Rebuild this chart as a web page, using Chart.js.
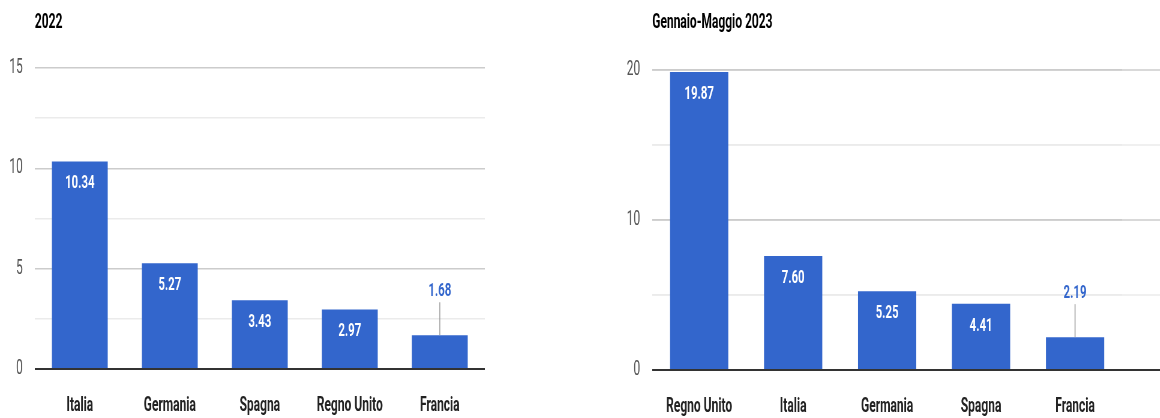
<!DOCTYPE html>
<html>
<head>
<meta charset="utf-8">
<script src="https://cdn.jsdelivr.net/npm/chart.js@4.4.0/dist/chart.umd.min.js"></script>
<style>
  html, body { margin: 0; padding: 0; background: #fff; overflow: hidden; }
  /* the reference is squeezed horizontally, so the charts are drawn wide and scaled down in x */
  .wrap { position: absolute; top: 0; height: 418px; transform-origin: 0 0; transform: scaleX(0.6); }
  #w1 { left: 0; width: 833px; }
  #w2 { left: 600px; width: 933px; }
</style>
</head>
<body>
<div class="wrap" id="w1"><canvas id="c1"></canvas></div>
<div class="wrap" id="w2"><canvas id="c2"></canvas></div>
<script>
const labels2022 = ['Italia', 'Germania', 'Spagna', 'Regno Unito', 'Francia'];
const values2022 = [10.34, 5.27, 3.43, 2.97, 1.68];
const majors2022 = [0, 5, 10, 15];

const labels2023 = ['Regno Unito', 'Italia', 'Germania', 'Spagna', 'Francia'];
const values2023 = [19.87, 7.60, 5.25, 4.41, 2.19];
const majors2023 = [0, 10, 20];

const BAR = '#3366cc';
const FONT = "Roboto, 'Liberation Sans', Arial, sans-serif";

function gridColor(majors) {
    return function (c) {
        const v = c.tick.value;
        if (v === 0) return '#333333';
        return majors.includes(v) ? '#cccccc' : '#ebebeb';
    };
}

// bar value labels: white inside the bar, or blue above it with a small leader line
const barLabels = {
    id: 'barLabels',
    afterDatasetsDraw(chart) {
        const ctx = chart.ctx;
        const vals = chart.data.datasets[0].data;
        ctx.save();
        ctx.font = 'bold 19px ' + FONT;
        ctx.textAlign = 'center';
        ctx.textBaseline = 'middle';
        chart.getDatasetMeta(0).data.forEach((bar, i) => {
            const txt = vals[i].toFixed(2);
            const h = bar.base - bar.y;
            if (h > 40) {
                ctx.fillStyle = '#ffffff';
                ctx.fillText(txt, bar.x, bar.y + 22);
            } else {
                ctx.strokeStyle = '#999999';
                ctx.lineWidth = 1.5;
                ctx.beginPath();
                ctx.moveTo(bar.x, bar.y);
                ctx.lineTo(bar.x, bar.y - 33);
                ctx.stroke();
                ctx.fillStyle = BAR;
                ctx.fillText(txt, bar.x, bar.y - 44);
            }
        });
        ctx.restore();
    }
};

// chart title, left aligned on the plot area
const topTitle = {
    id: 'topTitle',
    afterDraw(chart, args, opts) {
        const ctx = chart.ctx;
        ctx.save();
        ctx.font = 'bold 20px ' + FONT;
        ctx.fillStyle = '#000000';
        ctx.textAlign = 'left';
        ctx.textBaseline = 'middle';
        ctx.fillText(opts.text, chart.chartArea.left, 23);
        ctx.restore();
    }
};

// the right chart's gridlines run on to the edge of the picture
const extendGrid = {
    id: 'extendGrid',
    beforeDatasetsDraw(chart, args, opts) {
        if (!opts.on) return;
        const ctx = chart.ctx;
        const y = chart.scales.y;
        ctx.save();
        y.ticks.forEach(t => {
            const py = y.getPixelForValue(t.value);
            ctx.strokeStyle = gridColor(opts.majors)({ tick: t });
            ctx.lineWidth = t.value === 0 ? 2 : 1.5;
            ctx.beginPath();
            ctx.moveTo(chart.chartArea.left, py);
            ctx.lineTo(chart.width, py);
            ctx.stroke();
        });
        ctx.restore();
    }
};

function makeChart(id, title, labels, values, majors, max, step, yWidth, top, xHeight, padRight, extend) {
    return new Chart(document.getElementById(id), {
        type: 'bar',
        data: {
            labels: labels,
            datasets: [{
                data: values,
                backgroundColor: BAR,
                borderWidth: 0,
                categoryPercentage: 1,
                barPercentage: 0.62,
            }],
        },
        options: {
            responsive: true,
            maintainAspectRatio: false,
            animation: false,
            events: [],
            layout: { padding: { top: top, right: padRight, bottom: 0, left: 0 } },
            scales: {
                x: {
                    grid: { display: false },
                    border: { display: false },
                    afterFit: s => { s.height = xHeight; },
                    ticks: {
                        color: '#222222',
                        padding: 17,
                        maxRotation: 0,
                        font: { family: FONT, size: 20, weight: 'bold' },
                    },
                },
                y: {
                    min: 0,
                    max: max,
                    border: { display: false },
                    afterFit: s => { s.width = yWidth; },
                    grid: {
                        drawTicks: false,
                        color: gridColor(majors),
                        lineWidth: c => (c.tick.value === 0 ? 2 : 1.5),
                    },
                    ticks: {
                        stepSize: step,
                        padding: 20,
                        color: '#555555',
                        font: { family: FONT, size: 20 },
                        callback: v => (majors.includes(v) ? v : ''),
                    },
                },
            },
            plugins: {
                legend: { display: false },
                tooltip: { enabled: false },
                topTitle: { text: title },
                extendGrid: { on: extend, majors: majors },
            },
        },
        plugins: [barLabels, topTitle, extendGrid],
    });
}

makeChart('c1', '2022', labels2022, values2022, majors2022, 15, 2.5, 58, 68, 49, 25, false);
makeChart('c2', 'Gennaio-Maggio 2023', labels2023, values2023, majors2023, 20, 5, 87, 70, 48, 63, true);
</script>
</body>
</html>
